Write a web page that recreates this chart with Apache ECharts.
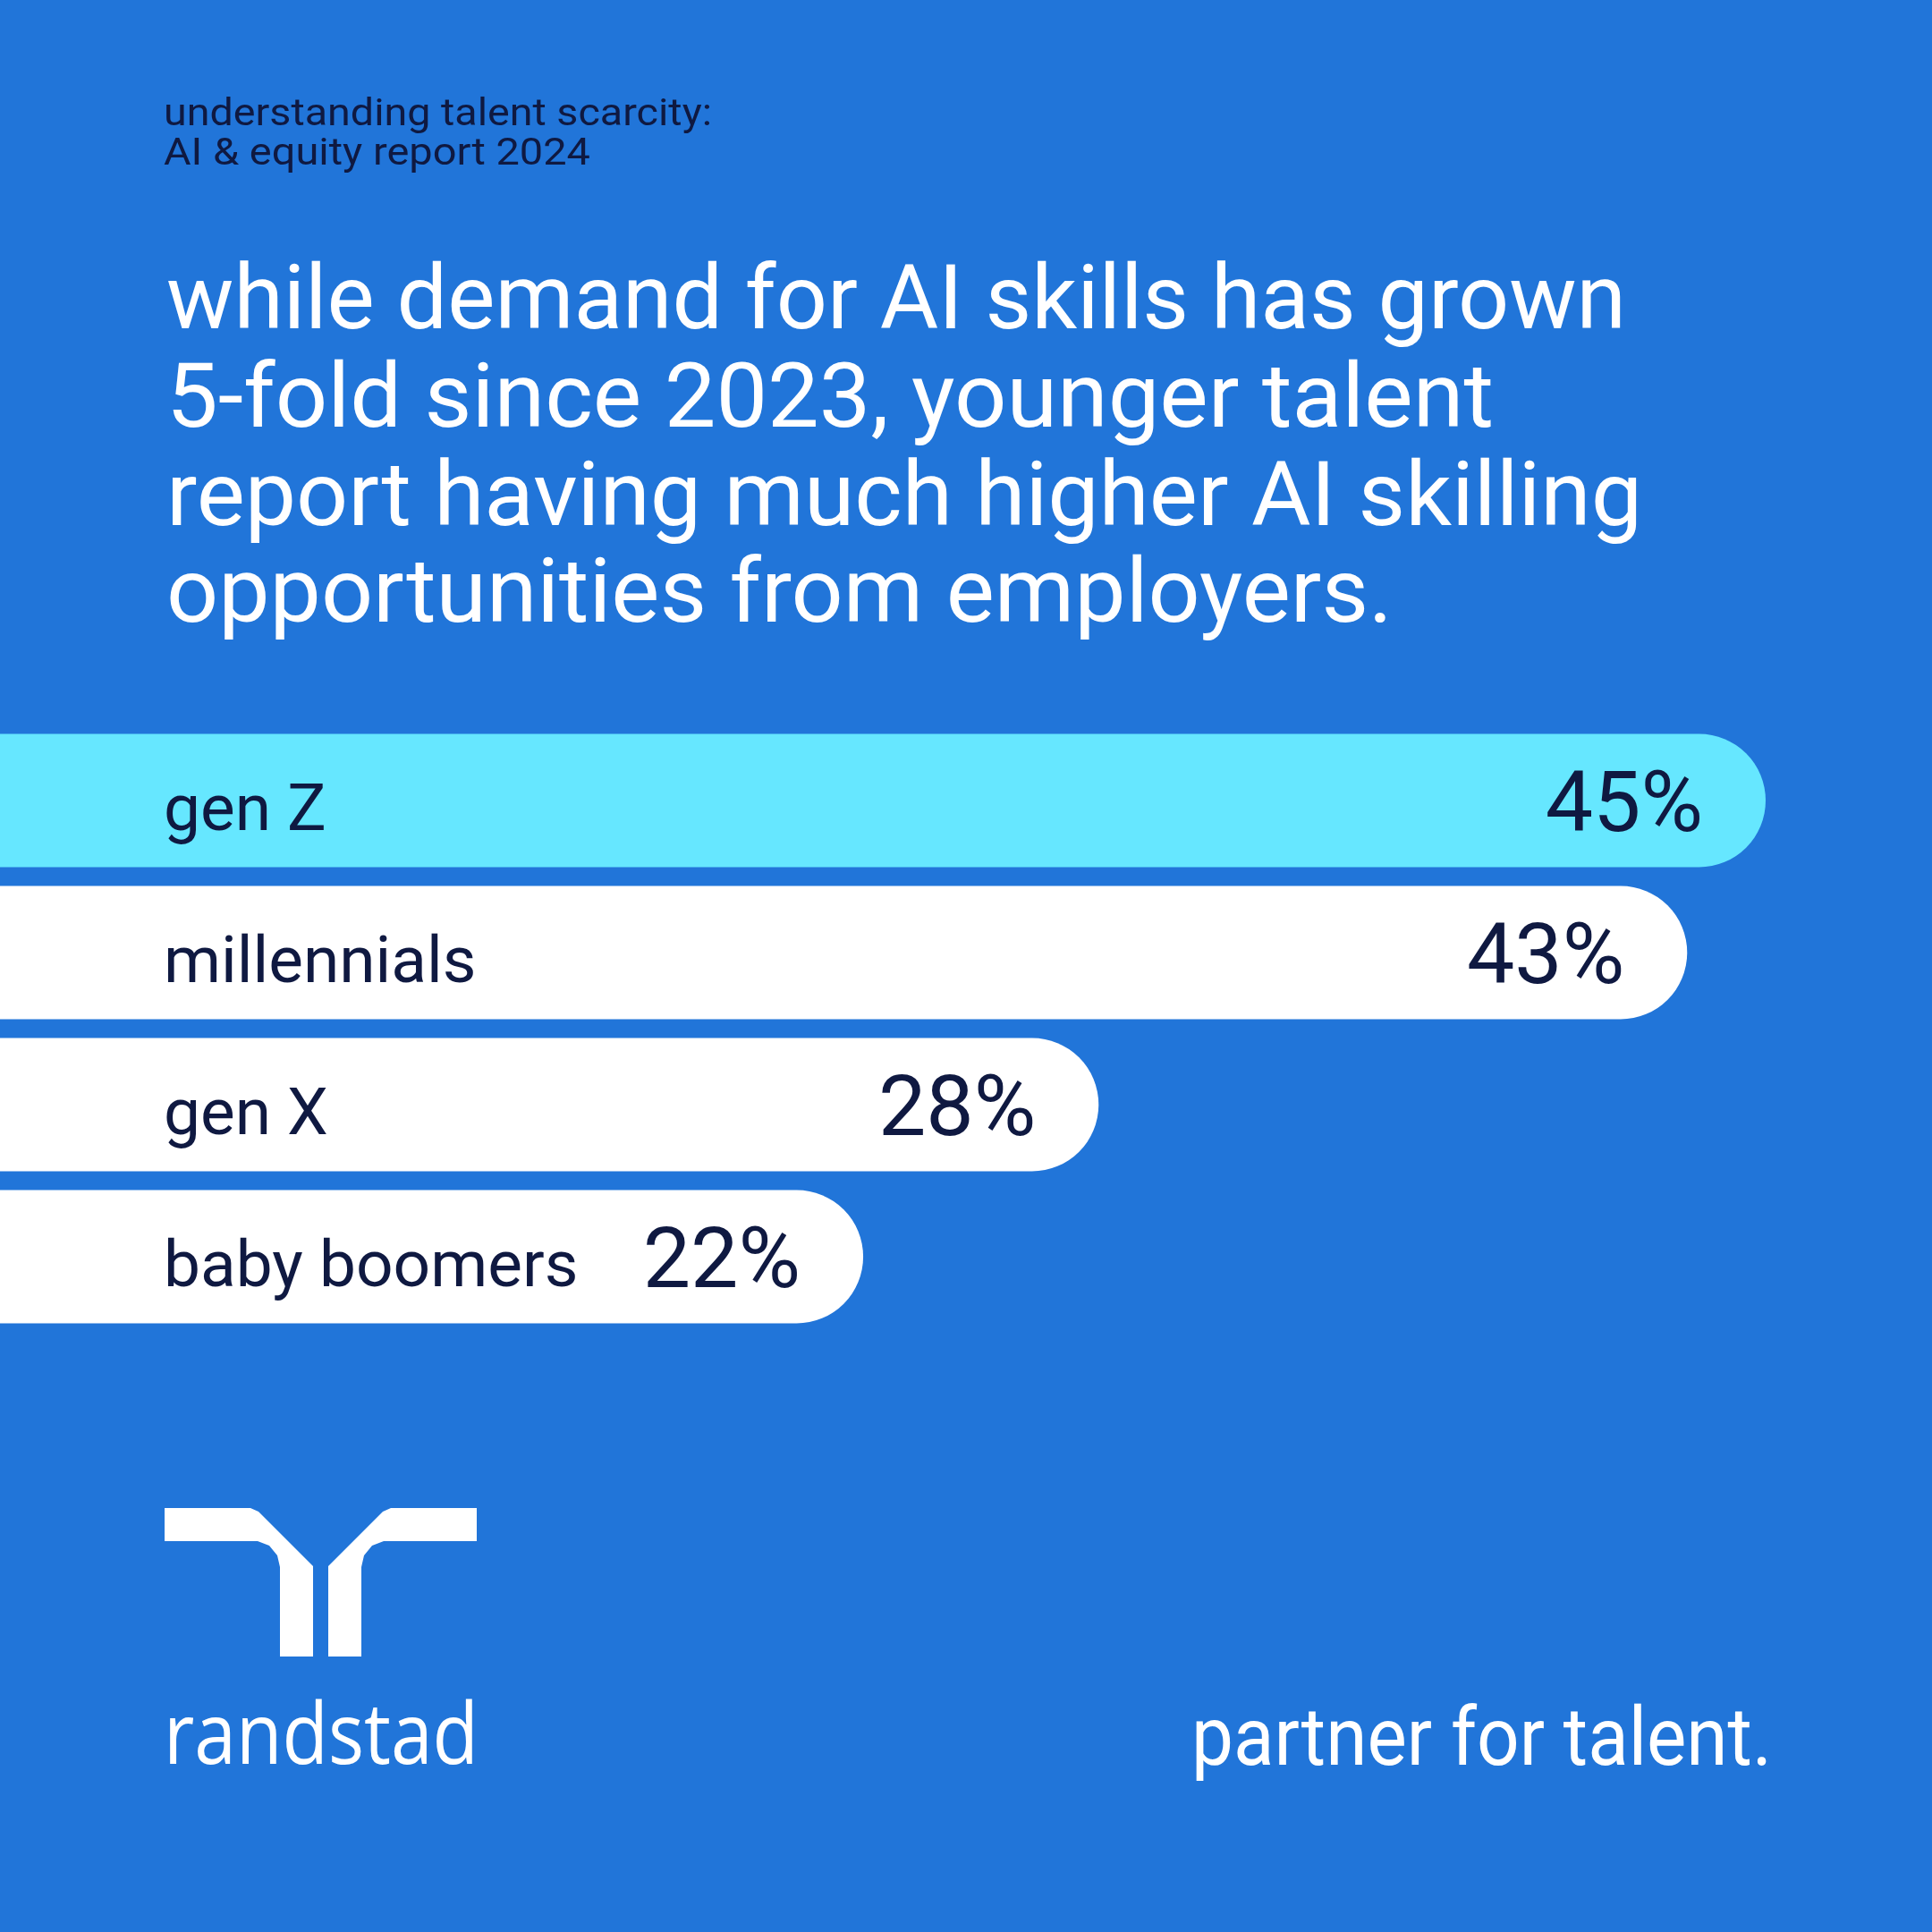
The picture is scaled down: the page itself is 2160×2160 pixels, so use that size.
<!DOCTYPE html>
<html>
<head>
<meta charset="utf-8">
<script src="https://cdn.jsdelivr.net/npm/echarts@6/dist/echarts.min.js"></script>
<style>
html,body{margin:0;padding:0;background:#2175D9;}
#chart{width:2160px;height:2160px;}
</style>
</head>
<body>
<div id="chart"></div>
<script>
// ---- data ----
const categories = ['gen Z', 'millennials', 'gen X', 'baby boomers'];
const values = [45, 43, 28, 22];
const subtitleLines = ['understanding talent scarcity:', 'AI & equity report 2024'];
const titleLines = [
  'while demand for AI skills has grown',
  '5-fold since 2023, younger talent',
  'report having much higher AI skilling',
  'opportunities from employers.'
];
const brandName = 'randstad';
const tagline = 'partner for talent.';

// ---- styles ----
const BG = '#2175D9';
const NAVY = '#0F1941';
const barColors = ['#66E7FF', '#FFFFFF', '#FFFFFF', '#FFFFFF'];

const measureCtx = document.createElement('canvas').getContext('2d');
function fitScale(text, font, target) {
  measureCtx.font = font;
  return target / measureCtx.measureText(text).width;
}
function textEl(text, x, y, font, fill, targetW) {
  return {
    type: 'text', x: x, y: y,
    scaleX: targetW ? fitScale(text, font, targetW) : 1,
    style: {
      text: text, font: font, fill: fill,
      align: 'left', verticalAlign: 'middle',
      textAlign: 'left', textVerticalAlign: 'middle'
    }
  };
}

const subFont = '400 42px Roboto';
const subTargets = [613, 477];
const subY = [129, 173];
const titleFont = '400 100px Roboto';
const titleTargets = [1632, 1484, 1650, 1371];
const titleY = [342, 452, 562, 670];

const graphics = [];
subtitleLines.forEach((t, i) => graphics.push(textEl(t, 183, subY[i], subFont, NAVY, subTargets[i])));
titleLines.forEach((t, i) => graphics.push(textEl(t, 186, titleY[i], titleFont, '#FFFFFF', titleTargets[i])));

// logo mark
const leftMark = [[184,1686],[280,1686],[289,1690],[350,1751],[350,1852],[313,1852],[313,1752],[310,1739],[301,1728],[288,1723],[184,1723]];
const rightMark = leftMark.map(p => [717 - p[0], p[1]]);
graphics.push({type: 'polygon', shape: {points: leftMark}, style: {fill: '#FFFFFF'}});
graphics.push({type: 'polygon', shape: {points: rightMark}, style: {fill: '#FFFFFF'}});
graphics.push(textEl(brandName, 183, 1945, '500 95px "Open Sans"', '#FFFFFF', 352));
graphics.push(textEl(tagline, 1332, 1950, '400 90px Roboto', '#FFFFFF', 649));

const chart = echarts.init(document.getElementById('chart'), null, {renderer: 'canvas'});
chart.setOption({
  backgroundColor: BG,
  animation: false,
  grid: {left: 0, right: 0, top: 810, height: 680, containLabel: false},
  xAxis: {type: 'value', min: 0, max: 49.24, show: false},
  yAxis: {
    type: 'category', data: categories, inverse: true, z: 10,
    axisLine: {show: false}, axisTick: {show: false}, splitLine: {show: false},
    axisLabel: {
      inside: true, margin: 183, color: NAVY,
      fontFamily: 'Roboto', fontSize: 73, align: 'left',
      verticalAlign: 'top', lineHeight: 30
    }
  },
  series: [{
    type: 'bar',
    data: values.map((v, i) => ({value: v, itemStyle: {color: barColors[i]}})),
    barWidth: 149,
    itemStyle: {borderRadius: [0, 75, 75, 0]},
    label: {
      show: true, position: 'insideRight', distance: 70, offset: [0, 10],
      formatter: '{c}%', color: NAVY, fontFamily: 'Roboto', fontSize: 95
    }
  }],
  graphic: {elements: graphics}
});
</script>
</body>
</html>
